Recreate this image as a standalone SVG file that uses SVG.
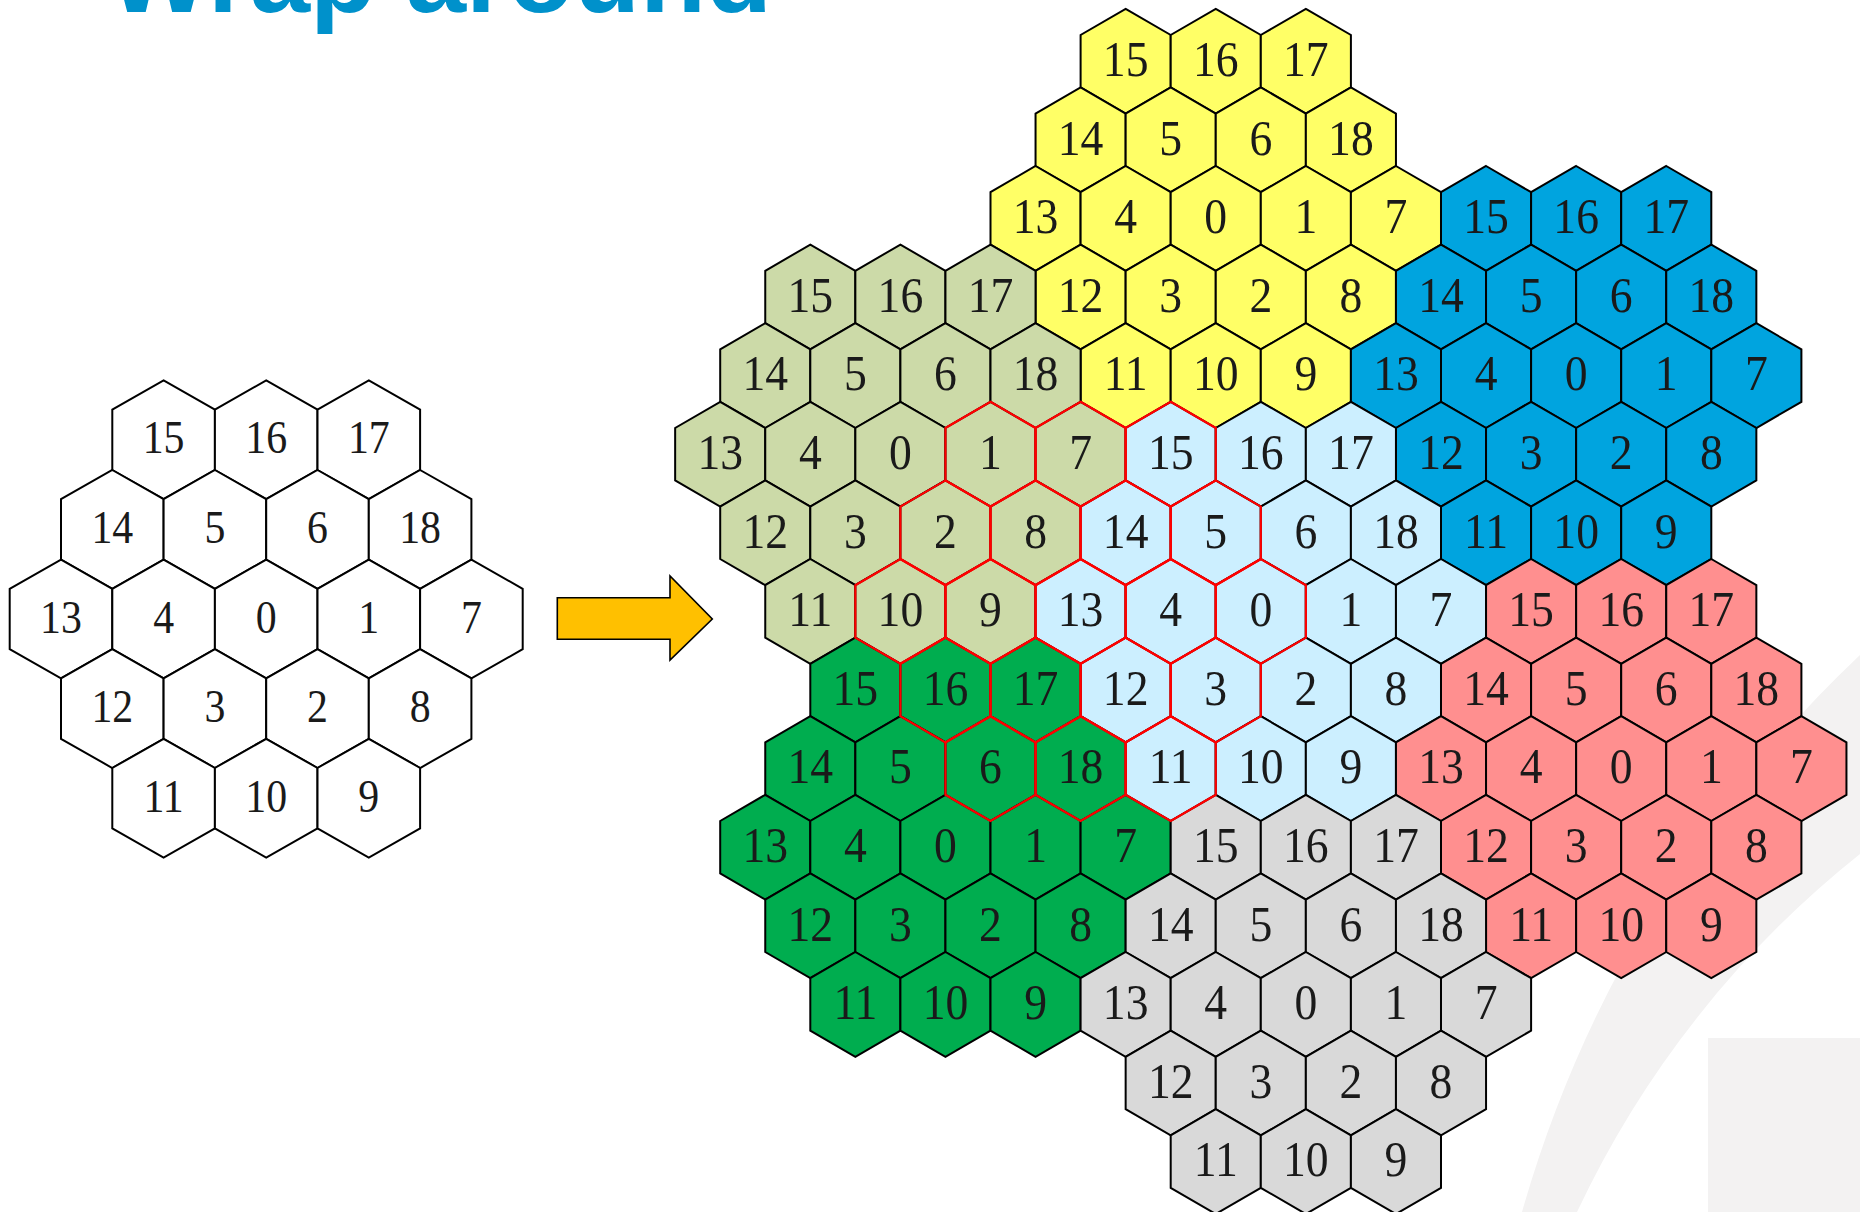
<svg xmlns="http://www.w3.org/2000/svg" xmlns:xlink="http://www.w3.org/1999/xlink" width="1860" height="1212" viewBox="0 0 1860 1212">
<style>
.cl{stroke:#000;stroke-width:2}
.cl text{stroke:none;fill:#1a1a1a;font-family:"Liberation Serif","Times New Roman",serif;text-anchor:middle;transform-box:fill-box;transform-origin:center}
.R text{font-size:50.7px;transform:scaleX(0.9)}
.L text{font-size:47px;transform:scaleX(0.89)}
.yel{fill:#ffff66}.dbl{fill:#00a4df}.olv{fill:#ccdaa8}.lbl{fill:#ccefff}.grn{fill:#00ad4f}.sal{fill:#ff8f8f}.gry{fill:#d9d9d9}.wht{fill:#fff}
.deco{fill:#f3f2f2}
</style>
<defs>
<polygon id="hr" points="0,-52.4 45.05,-26.2 45.05,26.2 0,52.4 -45.05,26.2 -45.05,-26.2"/>
<polygon id="hl" points="0,-59.4 51.3,-30.2 51.3,30.2 0,59.4 -51.3,30.2 -51.3,-30.2"/>
</defs>
<rect width="1860" height="1212" fill="#fff"/>
<g id="background">
<path class="deco" d="M1860 655 A1229 1229 0 0 0 1522 1212 L1577 1212 A1000 1000 0 0 1 1860 854 Z"/>
<rect class="deco" x="1708" y="1038" width="152" height="174"/>
</g>
<text id="title" x="108" y="12.3" font-family="Liberation Sans, Arial, sans-serif" font-weight="bold" font-size="108" fill="#0091cb">Wrap around</text>

<g id="original" class="cl L wht" transform="translate(266.2,619)">
<use href="#hl" x="-102.6" y="-179.2"/><use href="#hl" x="0" y="-179.2"/><use href="#hl" x="102.6" y="-179.2"/>
<use href="#hl" x="-153.9" y="-89.6"/><use href="#hl" x="-51.3" y="-89.6"/><use href="#hl" x="51.3" y="-89.6"/><use href="#hl" x="153.9" y="-89.6"/>
<use href="#hl" x="-205.2" y="0"/><use href="#hl" x="-102.6" y="0"/><use href="#hl" x="0" y="0"/><use href="#hl" x="102.6" y="0"/><use href="#hl" x="205.2" y="0"/>
<use href="#hl" x="-153.9" y="89.6"/><use href="#hl" x="-51.3" y="89.6"/><use href="#hl" x="51.3" y="89.6"/><use href="#hl" x="153.9" y="89.6"/>
<use href="#hl" x="-102.6" y="179.2"/><use href="#hl" x="0" y="179.2"/><use href="#hl" x="102.6" y="179.2"/>
<text x="-102.6" y="-165.6">15</text><text x="0" y="-165.6">16</text><text x="102.6" y="-165.6">17</text>
<text x="-153.9" y="-76">14</text><text x="-51.3" y="-76">5</text><text x="51.3" y="-76">6</text><text x="153.9" y="-76">18</text>
<text x="-205.2" y="13.6">13</text><text x="-102.6" y="13.6">4</text><text x="0" y="13.6">0</text><text x="102.6" y="13.6">1</text><text x="205.2" y="13.6">7</text>
<text x="-153.9" y="103.2">12</text><text x="-51.3" y="103.2">3</text><text x="51.3" y="103.2">2</text><text x="153.9" y="103.2">8</text>
<text x="-102.6" y="192.8">11</text><text x="0" y="192.8">10</text><text x="102.6" y="192.8">9</text>
</g>

<g id="connectors">
<polygon id="arrow" points="557.3,597.7 670,597.7 670,576 712.3,619 670,660 670,639.3 557.3,639.3" fill="#ffc000" stroke="#000" stroke-width="1.6"/>
</g>

<g id="cluster-yellow" class="cl R yel" transform="translate(1215.75,218.4)">
<use href="#hr" x="-90.1" y="-157.2"/><use href="#hr" x="0" y="-157.2"/><use href="#hr" x="90.1" y="-157.2"/>
<use href="#hr" x="-135.15" y="-78.6"/><use href="#hr" x="-45.05" y="-78.6"/><use href="#hr" x="45.05" y="-78.6"/><use href="#hr" x="135.15" y="-78.6"/>
<use href="#hr" x="-180.2" y="0"/><use href="#hr" x="-90.1" y="0"/><use href="#hr" x="0" y="0"/><use href="#hr" x="90.1" y="0"/><use href="#hr" x="180.2" y="0"/>
<use href="#hr" x="-135.15" y="78.6"/><use href="#hr" x="-45.05" y="78.6"/><use href="#hr" x="45.05" y="78.6"/><use href="#hr" x="135.15" y="78.6"/>
<use href="#hr" x="-90.1" y="157.2"/><use href="#hr" x="0" y="157.2"/><use href="#hr" x="90.1" y="157.2"/>
<text x="-90.1" y="-142.4">15</text><text x="0" y="-142.4">16</text><text x="90.1" y="-142.4">17</text>
<text x="-135.15" y="-63.8">14</text><text x="-45.05" y="-63.8">5</text><text x="45.05" y="-63.8">6</text><text x="135.15" y="-63.8">18</text>
<text x="-180.2" y="14.8">13</text><text x="-90.1" y="14.8">4</text><text x="0" y="14.8">0</text><text x="90.1" y="14.8">1</text><text x="180.2" y="14.8">7</text>
<text x="-135.15" y="93.4">12</text><text x="-45.05" y="93.4">3</text><text x="45.05" y="93.4">2</text><text x="135.15" y="93.4">8</text>
<text x="-90.1" y="172">11</text><text x="0" y="172">10</text><text x="90.1" y="172">9</text>
</g>

<g id="cluster-darkblue" class="cl R dbl" transform="translate(1576.15,375.6)">
<use href="#hr" x="-90.1" y="-157.2"/><use href="#hr" x="0" y="-157.2"/><use href="#hr" x="90.1" y="-157.2"/>
<use href="#hr" x="-135.15" y="-78.6"/><use href="#hr" x="-45.05" y="-78.6"/><use href="#hr" x="45.05" y="-78.6"/><use href="#hr" x="135.15" y="-78.6"/>
<use href="#hr" x="-180.2" y="0"/><use href="#hr" x="-90.1" y="0"/><use href="#hr" x="0" y="0"/><use href="#hr" x="90.1" y="0"/><use href="#hr" x="180.2" y="0"/>
<use href="#hr" x="-135.15" y="78.6"/><use href="#hr" x="-45.05" y="78.6"/><use href="#hr" x="45.05" y="78.6"/><use href="#hr" x="135.15" y="78.6"/>
<use href="#hr" x="-90.1" y="157.2"/><use href="#hr" x="0" y="157.2"/><use href="#hr" x="90.1" y="157.2"/>
<text x="-90.1" y="-142.4">15</text><text x="0" y="-142.4">16</text><text x="90.1" y="-142.4">17</text>
<text x="-135.15" y="-63.8">14</text><text x="-45.05" y="-63.8">5</text><text x="45.05" y="-63.8">6</text><text x="135.15" y="-63.8">18</text>
<text x="-180.2" y="14.8">13</text><text x="-90.1" y="14.8">4</text><text x="0" y="14.8">0</text><text x="90.1" y="14.8">1</text><text x="180.2" y="14.8">7</text>
<text x="-135.15" y="93.4">12</text><text x="-45.05" y="93.4">3</text><text x="45.05" y="93.4">2</text><text x="135.15" y="93.4">8</text>
<text x="-90.1" y="172">11</text><text x="0" y="172">10</text><text x="90.1" y="172">9</text>
</g>

<g id="cluster-olive" class="cl R olv" transform="translate(900.4,454.2)">
<use href="#hr" x="-90.1" y="-157.2"/><use href="#hr" x="0" y="-157.2"/><use href="#hr" x="90.1" y="-157.2"/>
<use href="#hr" x="-135.15" y="-78.6"/><use href="#hr" x="-45.05" y="-78.6"/><use href="#hr" x="45.05" y="-78.6"/><use href="#hr" x="135.15" y="-78.6"/>
<use href="#hr" x="-180.2" y="0"/><use href="#hr" x="-90.1" y="0"/><use href="#hr" x="0" y="0"/><use href="#hr" x="90.1" y="0"/><use href="#hr" x="180.2" y="0"/>
<use href="#hr" x="-135.15" y="78.6"/><use href="#hr" x="-45.05" y="78.6"/><use href="#hr" x="45.05" y="78.6"/><use href="#hr" x="135.15" y="78.6"/>
<use href="#hr" x="-90.1" y="157.2"/><use href="#hr" x="0" y="157.2"/><use href="#hr" x="90.1" y="157.2"/>
<text x="-90.1" y="-142.4">15</text><text x="0" y="-142.4">16</text><text x="90.1" y="-142.4">17</text>
<text x="-135.15" y="-63.8">14</text><text x="-45.05" y="-63.8">5</text><text x="45.05" y="-63.8">6</text><text x="135.15" y="-63.8">18</text>
<text x="-180.2" y="14.8">13</text><text x="-90.1" y="14.8">4</text><text x="0" y="14.8">0</text><text x="90.1" y="14.8">1</text><text x="180.2" y="14.8">7</text>
<text x="-135.15" y="93.4">12</text><text x="-45.05" y="93.4">3</text><text x="45.05" y="93.4">2</text><text x="135.15" y="93.4">8</text>
<text x="-90.1" y="172">11</text><text x="0" y="172">10</text><text x="90.1" y="172">9</text>
</g>

<g id="cluster-lightblue" class="cl R lbl" transform="translate(1260.8,611.4)">
<use href="#hr" x="-90.1" y="-157.2"/><use href="#hr" x="0" y="-157.2"/><use href="#hr" x="90.1" y="-157.2"/>
<use href="#hr" x="-135.15" y="-78.6"/><use href="#hr" x="-45.05" y="-78.6"/><use href="#hr" x="45.05" y="-78.6"/><use href="#hr" x="135.15" y="-78.6"/>
<use href="#hr" x="-180.2" y="0"/><use href="#hr" x="-90.1" y="0"/><use href="#hr" x="0" y="0"/><use href="#hr" x="90.1" y="0"/><use href="#hr" x="180.2" y="0"/>
<use href="#hr" x="-135.15" y="78.6"/><use href="#hr" x="-45.05" y="78.6"/><use href="#hr" x="45.05" y="78.6"/><use href="#hr" x="135.15" y="78.6"/>
<use href="#hr" x="-90.1" y="157.2"/><use href="#hr" x="0" y="157.2"/><use href="#hr" x="90.1" y="157.2"/>
<text x="-90.1" y="-142.4">15</text><text x="0" y="-142.4">16</text><text x="90.1" y="-142.4">17</text>
<text x="-135.15" y="-63.8">14</text><text x="-45.05" y="-63.8">5</text><text x="45.05" y="-63.8">6</text><text x="135.15" y="-63.8">18</text>
<text x="-180.2" y="14.8">13</text><text x="-90.1" y="14.8">4</text><text x="0" y="14.8">0</text><text x="90.1" y="14.8">1</text><text x="180.2" y="14.8">7</text>
<text x="-135.15" y="93.4">12</text><text x="-45.05" y="93.4">3</text><text x="45.05" y="93.4">2</text><text x="135.15" y="93.4">8</text>
<text x="-90.1" y="172">11</text><text x="0" y="172">10</text><text x="90.1" y="172">9</text>
</g>

<g id="cluster-salmon" class="cl R sal" transform="translate(1621.2,768.6)">
<use href="#hr" x="-90.1" y="-157.2"/><use href="#hr" x="0" y="-157.2"/><use href="#hr" x="90.1" y="-157.2"/>
<use href="#hr" x="-135.15" y="-78.6"/><use href="#hr" x="-45.05" y="-78.6"/><use href="#hr" x="45.05" y="-78.6"/><use href="#hr" x="135.15" y="-78.6"/>
<use href="#hr" x="-180.2" y="0"/><use href="#hr" x="-90.1" y="0"/><use href="#hr" x="0" y="0"/><use href="#hr" x="90.1" y="0"/><use href="#hr" x="180.2" y="0"/>
<use href="#hr" x="-135.15" y="78.6"/><use href="#hr" x="-45.05" y="78.6"/><use href="#hr" x="45.05" y="78.6"/><use href="#hr" x="135.15" y="78.6"/>
<use href="#hr" x="-90.1" y="157.2"/><use href="#hr" x="0" y="157.2"/><use href="#hr" x="90.1" y="157.2"/>
<text x="-90.1" y="-142.4">15</text><text x="0" y="-142.4">16</text><text x="90.1" y="-142.4">17</text>
<text x="-135.15" y="-63.8">14</text><text x="-45.05" y="-63.8">5</text><text x="45.05" y="-63.8">6</text><text x="135.15" y="-63.8">18</text>
<text x="-180.2" y="14.8">13</text><text x="-90.1" y="14.8">4</text><text x="0" y="14.8">0</text><text x="90.1" y="14.8">1</text><text x="180.2" y="14.8">7</text>
<text x="-135.15" y="93.4">12</text><text x="-45.05" y="93.4">3</text><text x="45.05" y="93.4">2</text><text x="135.15" y="93.4">8</text>
<text x="-90.1" y="172">11</text><text x="0" y="172">10</text><text x="90.1" y="172">9</text>
</g>

<g id="cluster-green" class="cl R grn" transform="translate(945.45,847.2)">
<use href="#hr" x="-90.1" y="-157.2"/><use href="#hr" x="0" y="-157.2"/><use href="#hr" x="90.1" y="-157.2"/>
<use href="#hr" x="-135.15" y="-78.6"/><use href="#hr" x="-45.05" y="-78.6"/><use href="#hr" x="45.05" y="-78.6"/><use href="#hr" x="135.15" y="-78.6"/>
<use href="#hr" x="-180.2" y="0"/><use href="#hr" x="-90.1" y="0"/><use href="#hr" x="0" y="0"/><use href="#hr" x="90.1" y="0"/><use href="#hr" x="180.2" y="0"/>
<use href="#hr" x="-135.15" y="78.6"/><use href="#hr" x="-45.05" y="78.6"/><use href="#hr" x="45.05" y="78.6"/><use href="#hr" x="135.15" y="78.6"/>
<use href="#hr" x="-90.1" y="157.2"/><use href="#hr" x="0" y="157.2"/><use href="#hr" x="90.1" y="157.2"/>
<text x="-90.1" y="-142.4">15</text><text x="0" y="-142.4">16</text><text x="90.1" y="-142.4">17</text>
<text x="-135.15" y="-63.8">14</text><text x="-45.05" y="-63.8">5</text><text x="45.05" y="-63.8">6</text><text x="135.15" y="-63.8">18</text>
<text x="-180.2" y="14.8">13</text><text x="-90.1" y="14.8">4</text><text x="0" y="14.8">0</text><text x="90.1" y="14.8">1</text><text x="180.2" y="14.8">7</text>
<text x="-135.15" y="93.4">12</text><text x="-45.05" y="93.4">3</text><text x="45.05" y="93.4">2</text><text x="135.15" y="93.4">8</text>
<text x="-90.1" y="172">11</text><text x="0" y="172">10</text><text x="90.1" y="172">9</text>
</g>

<g id="cluster-gray" class="cl R gry" transform="translate(1305.85,1004.4)">
<use href="#hr" x="-90.1" y="-157.2"/><use href="#hr" x="0" y="-157.2"/><use href="#hr" x="90.1" y="-157.2"/>
<use href="#hr" x="-135.15" y="-78.6"/><use href="#hr" x="-45.05" y="-78.6"/><use href="#hr" x="45.05" y="-78.6"/><use href="#hr" x="135.15" y="-78.6"/>
<use href="#hr" x="-180.2" y="0"/><use href="#hr" x="-90.1" y="0"/><use href="#hr" x="0" y="0"/><use href="#hr" x="90.1" y="0"/><use href="#hr" x="180.2" y="0"/>
<use href="#hr" x="-135.15" y="78.6"/><use href="#hr" x="-45.05" y="78.6"/><use href="#hr" x="45.05" y="78.6"/><use href="#hr" x="135.15" y="78.6"/>
<use href="#hr" x="-90.1" y="157.2"/><use href="#hr" x="0" y="157.2"/><use href="#hr" x="90.1" y="157.2"/>
<text x="-90.1" y="-142.4">15</text><text x="0" y="-142.4">16</text><text x="90.1" y="-142.4">17</text>
<text x="-135.15" y="-63.8">14</text><text x="-45.05" y="-63.8">5</text><text x="45.05" y="-63.8">6</text><text x="135.15" y="-63.8">18</text>
<text x="-180.2" y="14.8">13</text><text x="-90.1" y="14.8">4</text><text x="0" y="14.8">0</text><text x="90.1" y="14.8">1</text><text x="180.2" y="14.8">7</text>
<text x="-135.15" y="93.4">12</text><text x="-45.05" y="93.4">3</text><text x="45.05" y="93.4">2</text><text x="135.15" y="93.4">8</text>
<text x="-90.1" y="172">11</text><text x="0" y="172">10</text><text x="90.1" y="172">9</text>
</g>

<g id="highlight" fill="none" stroke="#ff0000" stroke-width="2.2">
<use href="#hr" x="990.5" y="454.2"/><use href="#hr" x="1080.6" y="454.2"/><use href="#hr" x="1170.7" y="454.2"/>
<use href="#hr" x="945.45" y="532.8"/><use href="#hr" x="1035.55" y="532.8"/><use href="#hr" x="1125.65" y="532.8"/><use href="#hr" x="1215.75" y="532.8"/>
<use href="#hr" x="900.4" y="611.4"/><use href="#hr" x="990.5" y="611.4"/><use href="#hr" x="1080.6" y="611.4"/><use href="#hr" x="1170.7" y="611.4"/><use href="#hr" x="1260.8" y="611.4"/>
<use href="#hr" x="945.45" y="690"/><use href="#hr" x="1035.55" y="690"/><use href="#hr" x="1125.65" y="690"/><use href="#hr" x="1215.75" y="690"/>
<use href="#hr" x="990.5" y="768.6"/><use href="#hr" x="1080.6" y="768.6"/><use href="#hr" x="1170.7" y="768.6"/>
</g>
</svg>
